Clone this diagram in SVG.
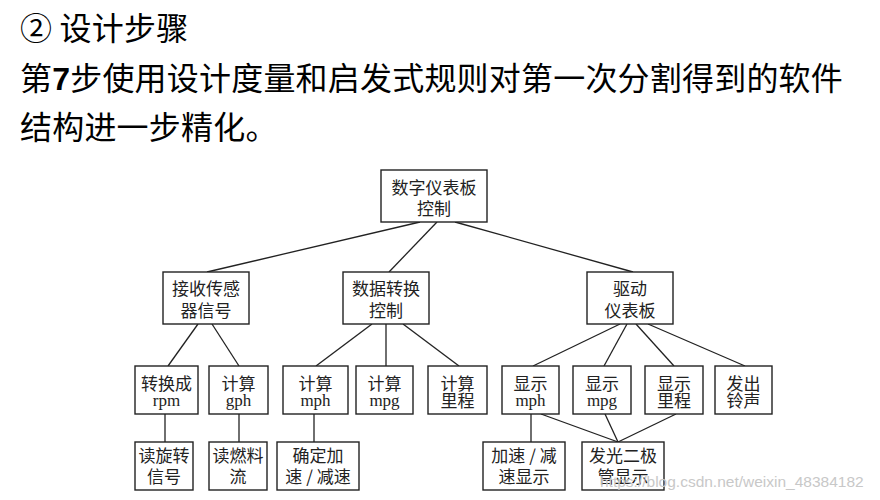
<svg xmlns="http://www.w3.org/2000/svg" width="880" height="500" viewBox="0 0 880 500">
<style>
.h{font-family:"Noto Sans CJK SC","Noto Sans",sans-serif;font-size:32px;letter-spacing:0.2px;fill:#000}
.b{fill:#fff;stroke:#222;stroke-width:1.4}
.t{font-family:"Liberation Serif","Noto Sans CJK SC",serif;font-size:17px;fill:#222;text-anchor:middle}
.c{font-family:"Noto Sans CJK SC",sans-serif}
#edges line{stroke:#222;stroke-width:1.3}
.wm{font-family:"Liberation Sans",Arial,sans-serif;font-size:15.5px;fill:#c8c8c8}
</style>
<rect width="880" height="500" fill="#fff"/>
<text class="h" x="20" y="40">② 设计步骤</text>
<text class="h" x="20" y="90">第<tspan font-weight="bold" font-family="Liberation Sans,sans-serif">7</tspan>步使用设计度量和启发式规则对第一次分割得到的软件</text>
<text class="h" x="20" y="139">结构进一步精化。</text>
<g id="edges">
<line x1="420" y1="222" x2="207" y2="272"/>
<line x1="437" y1="222" x2="389" y2="272"/>
<line x1="455" y1="222" x2="633" y2="272"/>
<line x1="198" y1="324" x2="168" y2="366"/>
<line x1="212" y1="324" x2="239" y2="366"/>
<line x1="372" y1="324" x2="316" y2="366"/>
<line x1="386" y1="324" x2="386" y2="366"/>
<line x1="403" y1="324" x2="459" y2="366"/>
<line x1="620" y1="324" x2="533" y2="366"/>
<line x1="627" y1="324" x2="604" y2="366"/>
<line x1="636" y1="324" x2="674" y2="366"/>
<line x1="648" y1="324" x2="745" y2="366"/>
<line x1="165" y1="414" x2="165" y2="442"/>
<line x1="239" y1="414" x2="239" y2="442"/>
<line x1="314" y1="414" x2="314" y2="442"/>
<line x1="531" y1="414" x2="531" y2="442"/>
<line x1="541" y1="414" x2="618" y2="442"/>
<line x1="605" y1="414" x2="618" y2="442"/>
<line x1="676" y1="414" x2="618" y2="442"/>
</g>
<g id="root"><rect class="b" x="381" y="170" width="106" height="52"/><text class="t c" x="434" y="193.5">数字仪表板</text><text class="t c" x="434" y="214.5">控制</text></g>
<g id="recv"><rect class="b" x="163" y="272" width="86" height="52"/><text class="t c" x="206" y="294.5">接收传感</text><text class="t c" x="206" y="316.5">器信号</text></g>
<g id="conv"><rect class="b" x="343" y="272" width="86" height="52"/><text class="t c" x="386" y="294.5">数据转换</text><text class="t c" x="386" y="316.5">控制</text></g>
<g id="drive"><rect class="b" x="587" y="272" width="86" height="52"/><text class="t c" x="630" y="294.5">驱动</text><text class="t c" x="630" y="316.5">仪表板</text></g>
<g id="rpm"><rect class="b" x="135" y="366" width="63" height="48"/><text class="t c" x="166.5" y="389.5">转换成</text><text class="t" x="166.5" y="406">rpm</text></g>
<g id="gph"><rect class="b" x="209" y="366" width="59" height="48"/><text class="t c" x="238.5" y="389.5">计算</text><text class="t" x="238.5" y="406">gph</text></g>
<g id="mph"><rect class="b" x="283" y="366" width="65" height="48"/><text class="t c" x="315.5" y="389.5">计算</text><text class="t" x="315.5" y="406">mph</text></g>
<g id="mpg"><rect class="b" x="356" y="366" width="57" height="48"/><text class="t c" x="384.5" y="389.5">计算</text><text class="t" x="384.5" y="406">mpg</text></g>
<g id="mileage"><rect class="b" x="428" y="366" width="59" height="48"/><text class="t c" x="457.5" y="389.5">计算</text><text class="t c" x="457.5" y="406.5">里程</text></g>
<g id="dmph"><rect class="b" x="502" y="366" width="57" height="48"/><text class="t c" x="530.5" y="389.5">显示</text><text class="t" x="530.5" y="406">mph</text></g>
<g id="dmpg"><rect class="b" x="573" y="366" width="58" height="48"/><text class="t c" x="602" y="389.5">显示</text><text class="t" x="602" y="406">mpg</text></g>
<g id="dmile"><rect class="b" x="645" y="366" width="58" height="48"/><text class="t c" x="674" y="389.5">显示</text><text class="t c" x="674" y="406.5">里程</text></g>
<g id="bell"><rect class="b" x="715" y="366" width="57" height="48"/><text class="t c" x="743.5" y="389.5">发出</text><text class="t c" x="743.5" y="406.5">铃声</text></g>
<g id="readrot"><rect class="b" x="135" y="442" width="58" height="48"/><text class="t c" x="164" y="461.5">读旋转</text><text class="t c" x="164" y="482.5">信号</text></g>
<g id="readfuel"><rect class="b" x="209" y="442" width="58" height="48"/><text class="t c" x="238" y="461.5">读燃料</text><text class="t c" x="238" y="482.5">流</text></g>
<g id="accel"><rect class="b" x="277" y="442" width="82" height="48"/><text class="t c" x="318" y="461.5">确定加</text><text class="t c" x="318" y="482.5">速 / 减速</text></g>
<g id="daccel"><rect class="b" x="483" y="442" width="82" height="48"/><text class="t c" x="524" y="461.5">加速 / 减</text><text class="t c" x="524" y="482.5">速显示</text></g>
<g id="led"><rect class="b" x="582" y="442" width="82" height="48"/><text class="t c" x="623" y="461.5">发光二极</text><text class="t c" x="623" y="482.5">管显示</text></g>
<text class="wm" x="600" y="487">https://blog.csdn.net/weixin_48384182</text>
</svg>
